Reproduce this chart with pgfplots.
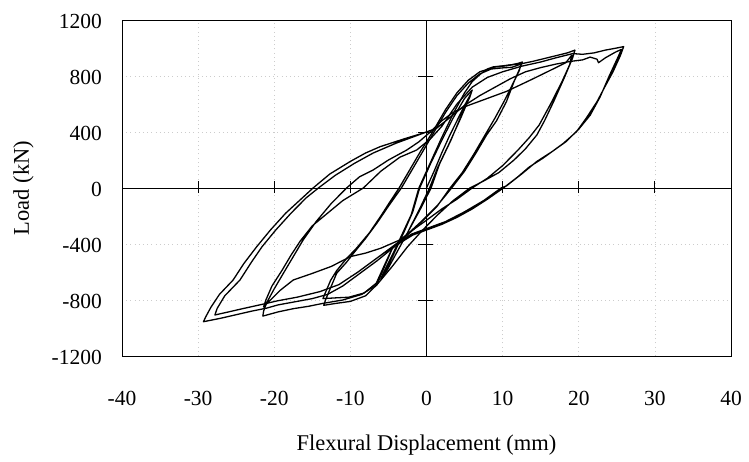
\documentclass[border=0pt]{standalone}
\usepackage{pgfplots}
\pgfplotsset{compat=1.18}
\usepackage{fontspec}
\setmainfont{Liberation Serif}

\tikzset{loop/.style={black, line width=1.3pt, line join=round, mark=none}}

\begin{document}
\begin{tikzpicture}
% picture frame: 749 x 461, plot box 609 x 336
\useasboundingbox (-122pt,-105pt) rectangle (627pt,356pt);
\begin{axis}[
  name=ax,
  at={(0,0)}, anchor=south west,
  scale only axis,
  width=609pt, height=336pt,
  xmin=-40, xmax=40, ymin=-1200, ymax=1200,
  xtick={-40,-30,...,40},
  ytick={-1200,-800,...,1200},
  xticklabels={-40,-30,-20,-10,0,10,20,30,40},
  yticklabels={-1200,-800,-400,0,400,800,1200},
  tick style={draw=none},
  major tick length=0pt,
  grid=major,
  grid style={gray!40, line width=0.6pt, line cap=butt, dash pattern=on 1pt off 3.2pt},
  axis line style={black, line width=0.8pt},
  xticklabel style={anchor=center, inner sep=0pt, yshift=-42pt,
    font=\fontsize{21.5}{24}\selectfont},
  yticklabel style={anchor=east, inner sep=0pt, xshift=-20pt, yshift=-1.5pt,
    font=\fontsize{21.5}{24}\selectfont},
  every axis x label/.style={at={(axis description cs:0.5,0)}, anchor=base,
    yshift=-94pt, font=\fontsize{22.5}{26}\selectfont},
  every axis y label/.style={at={(axis description cs:0,0.5)}, xshift=-93pt,
    rotate=90, anchor=base, font=\fontsize{22.5}{26}\selectfont},
  xlabel={Flexural Displacement (mm)},
  ylabel={Load (kN)},
]
% axes through the origin with crossing ticks
\draw[black, line width=0.8pt] (axis cs:-40,0) -- (axis cs:40,0);
\draw[black, line width=0.8pt] (axis cs:0,-1200) -- (axis cs:0,1200);
\pgfplotsinvokeforeach{-30,-20,-10,10,20,30}{
  \draw[black, line width=0.8pt] ([yshift=-5pt]axis cs:#1,0) -- ([yshift=7pt]axis cs:#1,0);}
\pgfplotsinvokeforeach{-800,-400,400,800}{
  \draw[black, line width=0.8pt] ([xshift=-9pt]axis cs:0,#1) -- ([xshift=6pt]axis cs:0,#1);}

% cycles at +/-6 mm
\addplot[loop] coordinates {
 (0,0) (1,120) (2,250) (3,370) (4,480) (5,590) (5.8,670)
 (5.6,640) (4.5,500) (3,320) (1.5,150) (0.4,0) (-1,-160) (-2.5,-320) (-4,-470) (-5.2,-590) (-5.8,-640)
 (-5.5,-600) (-4.3,-470) (-3,-320) (-1.8,-170) (-0.9,0) (0.5,170) (2,340) (3.5,500) (5,640) (6,700)
 (5.7,650) (4.6,520) (3.2,340) (1.7,170) (0.6,0) (-0.8,-150) (-2.3,-300) (-3.8,-450) (-5,-570) (-6,-650)
 (-5.7,-610) (-4.5,-480) (-3.2,-330) (-2,-190) (-1,0)
};
% cycles at +12.5/-13.5 mm
\addplot[loop] coordinates {
 (-1,0) (0.5,180) (2,360) (3.5,530) (5,680) (6,760) (7,810) (8,850) (8.8,866) (10,870) (11,878) (12,890) (12.6,900)
 (12.3,860) (11.5,760) (10.5,617) (9.2,480) (7.9,379) (6.5,250) (5,120) (3.3,0) (1.5,-120) (-0.5,-230)
 (-2.5,-330) (-4.4,-420) (-5.5,-560) (-6.5,-690) (-8,-770) (-10,-810) (-12,-825) (-13.5,-838)
 (-13.2,-790) (-12.5,-700) (-11.8,-609) (-10.5,-530) (-9.6,-467) (-8,-360) (-6.5,-250) (-5,-130) (-3.3,0)
 (-2,120) (-0.5,260) (1,400) (2.5,540) (4,660) (5.5,750) (7,815) (8.5,850) (10,858) (11.2,862) (12.4,885)
 (12.2,840) (11.3,740) (10.2,620) (9,500) (7.6,370) (6.2,240) (4.7,110) (3.1,0) (1.4,-130) (-0.6,-240)
 (-2.6,-340) (-4.5,-430) (-5.6,-560) (-6.6,-680) (-8.2,-750) (-10.2,-780) (-12,-785) (-13.6,-790)
 (-13.3,-750) (-12.6,-660) (-11.8,-590) (-10.6,-510) (-9.2,-430) (-7.5,-320) (-6,-200) (-4.7,-90) (-3.6,0) (-2.2,130)
};
% cycles at +19.5/-21.5 mm
\addplot[loop] coordinates {
 (-2.2,130) (-0.8,260) (0.8,400) (2.5,560) (4,680) (5.5,770) (7,830) (9,865) (10.8,878) (12.5,888)
 (14,905) (15.5,925) (17,945) (18.5,965) (19.5,985)
 (19.2,930) (18.2,800) (16.7,617) (15.5,480) (14.5,379) (13,280) (11.5,200) (9.5,110) (7.5,50) (5.7,0)
 (3.5,-90) (1.5,-190) (-0.5,-300) (-2.5,-420) (-4.5,-560) (-6.5,-690) (-8.5,-760) (-11,-800) (-13.6,-824)
 (-15.5,-845) (-17.5,-862) (-19.5,-885) (-21.5,-915)
 (-21.4,-880) (-21,-820) (-20,-720) (-18.8,-609) (-17.5,-490) (-16.2,-371) (-14.5,-240) (-12.5,-110) (-10.5,0)
 (-8.8,80) (-7,129) (-5,200) (-2.6,271) (-1,330) (0.5,400) (2,480) (3.5,540) (5,580) (7,620) (9,660)
 (10.5,690) (12.3,736) (14,780) (15.5,820) (17,860) (18.3,895) (19.1,950)
 (18.8,880) (17.8,760) (16.3,600) (14.8,450) (13.5,360) (12,270) (10,160) (8,70) (6,0) (4,-80) (2,-150)
 (0,-230) (-1.8,-300) (-3.5,-371) (-6,-430) (-8,-465) (-10,-490) (-12.5,-560) (-15,-610) (-17.5,-657)
 (-19.2,-730) (-20.5,-800) (-21.4,-850)
 (-21.1,-800) (-20.3,-700) (-19,-590) (-17.8,-480) (-16.6,-380) (-15,-270) (-13,-180) (-11,-90) (-8.3,0)
 (-6,120) (-3.5,220) (-1.3,271)
};
% cycles at +26/-29 mm
\addplot[loop] coordinates {
 (-1.3,271) (0.5,350) (2,440) (4,600) (6,720) (8,790) (10,830) (12.5,870) (15,900) (17,930) (19.2,960)
 (20.5,955) (22,965) (23.5,985) (25,1000) (25.9,1010)
 (25.5,950) (24.5,830) (23.4,720) (22.4,617) (21,500) (19.7,402) (18,320) (16.5,260) (15.3,213) (13.5,150)
 (12,80) (10.1,0) (8,-80) (6,-150) (4,-210) (2,-260) (0,-300) (-1.8,-336) (-4,-410) (-6.5,-520) (-9,-620)
 (-11,-700) (-13,-760) (-15,-790) (-17.5,-815) (-19.5,-835) (-21,-858) (-23,-880) (-25,-905) (-27,-930) (-29.3,-955)
 (-29,-920) (-28.3,-850) (-27.2,-760) (-25.4,-657) (-24,-540) (-22.3,-419) (-20.5,-300) (-18.5,-180)
 (-16.5,-80) (-14.9,0) (-12.7,100) (-10,190) (-8,250) (-6.1,295) (-3,350) (-0.4,393) (1.3,426) (3,500)
 (5,590) (7,660) (9,720) (11,780) (13,830) (15,860) (17,885) (19,905) (20.5,915) (21.5,935) (22.4,920)
 (22.6,895) (23.5,930) (24.8,970) (25.6,990)
 (25.2,940) (24,800) (22.8,650) (21.5,520) (20,420) (18.3,330) (16.5,260) (14.5,190) (12.5,100) (10.5,15)
 (9.8,0) (7.5,-90) (5,-170) (2.5,-240) (0,-290) (-2,-330) (-4,-400) (-6.5,-500) (-9,-600) (-11.5,-690)
 (-14,-740) (-17,-780) (-19.5,-805) (-21.5,-830) (-24,-860) (-26,-885) (-27.8,-907)
 (-27.5,-860) (-26.5,-770) (-24.5,-657) (-23,-530) (-21.6,-419) (-19.8,-300) (-17.8,-180) (-15.8,-70)
 (-14.2,0) (-12,90) (-9.5,175) (-7,250) (-4,320) (-1.5,370) (1,420)
};
\end{axis}
\end{tikzpicture}
\end{document}
